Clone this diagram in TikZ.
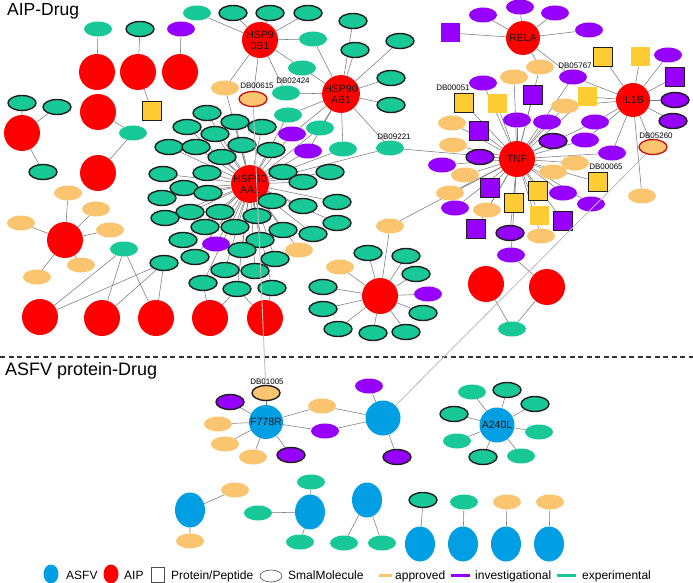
\documentclass[tikz,border=0pt]{standalone}
\usepackage{fontspec}
\setmainfont{Liberation Sans}
\usetikzlibrary{shapes.geometric}
\pgfdeclarelayer{bg}
\pgfsetlayers{bg,main}
\definecolor{cexp}{RGB}{24,200,150}
\definecolor{cinv}{RGB}{150,0,255}
\definecolor{capp}{RGB}{250,197,110}
\definecolor{csq}{RGB}{255,204,51}
\definecolor{cblue}{RGB}{0,158,226}
\definecolor{cbd}{RGB}{30,30,30}
\definecolor{cred}{RGB}{255,0,0}
\tikzset{
 ed/.style={draw=black!52, line width=0.55pt},
 lgl/.style={draw=black!25, line width=0.9pt},
 sm/.style={ellipse, minimum width=28pt, minimum height=15pt, inner sep=0pt},
 bd/.style={draw=cbd, line width=1.4pt},
 gE/.style={sm, fill=cexp}, gEb/.style={gE, bd},
 pI/.style={sm, fill=cinv}, pIb/.style={pI, bd},
 yA/.style={sm, fill=capp}, yAb/.style={yA, bd},
 yR/.style={yA, draw=red!80!black, line width=1.2pt},
 pq/.style={rectangle, minimum width=19pt, minimum height=19pt, inner sep=0pt},
 sqY/.style={pq, fill=csq}, sqYb/.style={sqY, bd},
 sqP/.style={pq, fill=cinv}, sqPb/.style={sqP, bd},
 aip/.style={circle, fill=cred, minimum size=36pt, inner sep=0pt},
 hub/.style={aip, font=\fontsize{10.5}{11}\selectfont, align=center, text=black!90},
 asfv/.style={circle, fill=cblue, minimum size=34pt, inner sep=0pt, font=\fontsize{10.5}{10.5}\selectfont, text=black!90},
 asfvE/.style={ellipse, fill=cblue, minimum width=30pt, minimum height=35pt, inner sep=0pt},
 dbl/.style={font=\fontsize{8}{8}\selectfont, inner sep=0pt},
 lgt/.style={font=\fontsize{12}{12}\selectfont, anchor=base west, inner sep=0pt},
 ttl/.style={font=\fontsize{17.5}{18}\selectfont, anchor=base west, inner sep=0pt},
}
\begin{document}
\begin{tikzpicture}[x=1pt,y=-1pt]
\useasboundingbox (0,0) rectangle (693,583);
% titles
\node[ttl] (title1) at (7,16) {AIP-Drug};
\node[ttl, font=\fontsize{18}{18}\selectfont] (title2) at (5,375) {ASFV protein-Drug};
\coordinate (dl) at (0,357); \coordinate (dr) at (693,357);
\draw[black!80, line width=1.2pt, dash pattern=on 5pt off 3.5pt] (dl) -- (dr);
% ---- top-left
\node[gE] (t1) at (98,29) {};
\node[gEb] (t2) at (140,29) {};
\node[pI] (t3) at (181,29) {};
\node[aip] (r1) at (97,72) {};
\node[aip] (r2) at (138,72) {};
\node[aip] (r3) at (180,72) {};
\node[sqYb] (t4) at (152,111) {};
\node[aip] (r4) at (98,112) {};
\node[gE] (t5) at (133,133) {};
\node[aip] (r5) at (98,173) {};
\node[aip] (r6) at (22,133) {};
\node[gEb] (t6) at (22,103) {};
\node[gEb] (t7) at (57,107) {};
\node[gEb] (t8) at (43,172) {};
% ---- left-bottom
\node[aip] (r7) at (65,240) {};
\node[yA] (y1) at (68,193) {};
\node[yA] (y2) at (96,209) {};
\node[yA] (y3) at (21,223) {};
\node[yA] (y4) at (110,230) {};
\node[yA] (y5) at (81,265) {};
\node[yA] (y6) at (37,277) {};
\node[gE] (t9) at (124,249) {};
\node[gEb] (t10) at (164,263) {};
\node[aip] (b1) at (40,317) {};
\node[aip] (b2) at (102,318) {};
\node[aip] (b3) at (156,318) {};
\node[aip] (b4) at (210,318) {};
\node[aip] (b5) at (265,318) {};
% ---- HSP90B1 / AB1
\node[hub] (hb1) at (260,40) {HSP9\\0B1};
\node[gE] (u1) at (197,13) {};
\node[gEb] (u2) at (233,13) {};
\node[gEb] (u3) at (270,13) {};
\node[gEb] (u4) at (308,13) {};
\node[gE] (u5) at (313,39) {};
\node[gE] (u6) at (302,68) {};
\node[yA] (u7) at (225,88) {};
\node[yR] (db615) at (253,99) {};
\node[dbl] (l615) at (257,86) {DB00615};
\node[gE] (db2424) at (286,93) {};
\node[dbl] (l2424) at (293,81) {DB02424};
\node[hub] (hab) at (341,94) {HSP90\\AB1};
\node[gEb] (v1) at (353,21) {};
\node[gEb] (v2) at (355,50) {};
\node[gEb] (v3) at (400,41) {};
\node[gEb] (v4) at (391,78) {};
\node[gEb] (v5) at (391,105) {};
\node[gE] (w1) at (288,115) {};
\node[gE] (w2) at (320,128) {};
\node[gE] (w3) at (343,149) {};
\node[gE] (db9221) at (390,148) {};
\node[dbl] (l9221) at (394,137) {DB09221};
\node[pI] (p1) at (292,134) {};
\node[pI] (p2) at (308,151) {};
% ---- HSP90AA1
\node[hub, minimum size=34pt] (haa) at (250,184) {HSP90\\AA1};
\foreach \i/\x/\y in {1/207/113,2/235/122,3/187/127,4/215/134,5/262/127,6/169/147,7/196/147,8/242/145,9/222/157,10/271/150,11/163/174,12/207/173,13/283/172,14/330/172,15/184/188,16/208/193,17/303/182,18/162/198,19/272/201,20/303/206,21/337/202,22/190/212,23/220/212,24/257/216,25/337/223,26/165/218,27/205/227,28/235/227,29/283/230,30/313/234,31/183/240,32/260/240,33/242/250,34/195/257,35/275/259,36/225/270,37/255/271,38/203/283,39/237/289,40/272/288}
  {\node[gEb] (a\i) at (\x,\y) {};}
\node[pI] (pa) at (216,244) {};
\node[yA] (ya) at (299,250) {};
% ---- right mid cluster
\node[aip] (r8) at (380,296) {};
\node[yA] (k1) at (340,267) {};
\node[yA] (k2) at (390,226) {};
\node[gEb] (k3) at (368,253) {};
\node[gEb] (k4) at (406,256) {};
\node[gEb] (k5) at (416,274) {};
\node[pI] (k6) at (428,294) {};
\node[gEb] (k7) at (423,313) {};
\node[gEb] (k8) at (406,332) {};
\node[gEb] (k9) at (373,333) {};
\node[gEb] (k10) at (338,329) {};
\node[gEb] (k11) at (323,309) {};
\node[gEb] (k12) at (323,287) {};
% ---- RELA
\node[hub, minimum size=34pt] (hrela) at (523,38) {RELA};
\node[pI] (q1) at (483,15) {};
\node[pI] (q2) at (520,7) {};
\node[pI] (q3) at (555,13) {};
\node[pI] (q4) at (589,30) {};
\node[sqP] (q5) at (450,33) {};
% ---- TNF
\node[hub] (tnf) at (517,159) {TNF};
\node[pI] (n1) at (483,83) {};
\node[yA] (n2) at (514,77) {};
\node[yA] (n3) at (540,67) {};
\node[pI] (db5767) at (573,77) {};
\node[dbl] (l5767) at (575,66) {DB05767};
\node[sqYb] (db51) at (464,103) {};
\node[dbl] (l51) at (453,88) {DB00051};
\node[sqY] (n4) at (497,104) {};
\node[sqPb] (n5) at (533,95) {};
\node[sqY] (n6) at (587,97) {};
\node[yA] (n7) at (452,123) {};
\node[sqPb] (n8) at (479,131) {};
\node[pI] (n9) at (517,120) {};
\node[pI] (n10) at (547,122) {};
\node[yA] (n11) at (565,106) {};
\node[pI] (n12) at (595,122) {};
\node[yA] (n13) at (453,145) {};
\node[pIb] (n14) at (553,141) {};
\node[pI] (n15) at (585,140) {};
\node[pIb] (n16) at (480,157) {};
\node[pI] (n17) at (612,153) {};
\node[pI] (n18) at (442,165) {};
\node[yA] (n19) at (465,175) {};
\node[yA] (n20) at (575,163) {};
\node[yA] (n21) at (553,172) {};
\node[sqYb] (db65) at (598,182) {};
\node[dbl] (l65) at (606,167) {DB00065};
\node[yA] (n22) at (450,193) {};
\node[sqPb] (n23) at (490,188) {};
\node[sqYb] (n24) at (538,191) {};
\node[pI] (n25) at (563,193) {};
\node[pI] (n26) at (591,204) {};
\node[pI] (n27) at (455,208) {};
\node[yA] (n28) at (487,210) {};
\node[sqYb] (n29) at (514,203) {};
\node[sqY] (n30) at (539,215) {};
\node[sqPb] (n31) at (563,221) {};
\node[sqPb] (n32) at (476,229) {};
\node[pIb] (n33) at (510,233) {};
\node[yA] (n34) at (541,236) {};
\node[pI] (n35) at (511,255) {};
\node[aip] (r9) at (547,287) {};
\node[aip] (r10) at (486,284) {};
\node[gE] (g9) at (512,329) {};
% ---- IL1B
\node[hub, minimum size=34pt] (hil) at (633,100) {IL1B};
\node[sqYb] (m1) at (603,57) {};
\node[sqY] (m2) at (640,57) {};
\node[pI] (m3) at (668,55) {};
\node[sqPb] (m4) at (675,77) {};
\node[pIb] (m5) at (675,100) {};
\node[pIb] (m6) at (673,121) {};
\node[yR] (db5260) at (653,147) {};
\node[dbl] (l5260) at (656,136) {DB05260};
\node[yA] (m7) at (642,196) {};
% ---- ASFV
\node[asfv] (f778) at (266,422) {F778R};
\node[yAb] (db1005) at (266,393) {};
\node[dbl] (l1005) at (267,382) {DB01005};
\node[pIb] (s1) at (230,402) {};
\node[yA] (s2) at (218,424) {};
\node[yA] (s3) at (225,444) {};
\node[yA] (s4) at (253,457) {};
\node[pIb] (s5) at (291,455) {};
\node[pI] (s6) at (325,431) {};
\node[yA] (s7) at (322,406) {};
\node[asfv, minimum size=35pt] (bl2) at (383,418) {};
\node[pI] (s8) at (369,386) {};
\node[pIb] (s9) at (397,457) {};
\node[asfv, minimum size=35pt] (a240) at (497,425) {A240L};
\node[gE] (c1) at (472,392) {};
\node[gEb] (c2) at (507,390) {};
\node[gEb] (c3) at (535,404) {};
\node[gE] (c4) at (539,432) {};
\node[gE] (c5) at (521,456) {};
\node[gEb] (c6) at (483,457) {};
\node[gE] (c7) at (457,441) {};
\node[gEb] (c8) at (454,414) {};
% bottom
\node[asfvE] (bb1) at (190,510) {};
\node[yA] (z1) at (235,490) {};
\node[yA] (z2) at (190,541) {};
\node[asfvE] (bb2) at (310,512) {};
\node[gE] (z3) at (311,482) {};
\node[gE] (z4) at (258,513) {};
\node[gE] (z5) at (300,542) {};
\node[asfvE] (bb3) at (367,500) {};
\node[gE] (z6) at (344,543) {};
\node[gE] (z7) at (382,543) {};
\node[asfvE] (bb4) at (420,544) {};
\node[gEb] (z8) at (423,500) {};
\node[asfvE] (bb5) at (463,544) {};
\node[gE] (z9) at (464,502) {};
\node[asfvE] (bb6) at (506,544) {};
\node[yA] (z10) at (507,502) {};
\node[asfvE] (bb7) at (549,544) {};
\node[yA] (z11) at (550,502) {};
% legend
\node[ellipse, fill=cblue, minimum width=15pt, minimum height=19pt, inner sep=0pt] (lg1) at (51,574) {};
\node[lgt] (lt1) at (66,579) {ASFV};
\node[ellipse, fill=cred, minimum width=15pt, minimum height=19pt, inner sep=0pt] (lg2) at (111,574) {};
\node[lgt] (lt2) at (124,579) {AIP};
\node[rectangle, draw=black!70, line width=0.6pt, minimum width=13pt, minimum height=15pt, inner sep=0pt] (lg3) at (158,575) {};
\node[lgt] (lt3) at (171,579) {Protein/Peptide};
\node[ellipse, draw=black!70, line width=0.6pt, minimum width=22pt, minimum height=12pt, inner sep=0pt] (lg4) at (271,576) {};
\node[lgt] (lt4) at (288,579) {SmalMolecule};
\coordinate (la1) at (379,575); \coordinate (la2) at (392,575);
\draw[capp, line width=3pt] (la1) -- (la2);
\node[lgt] (lt5) at (395,579) {approved};
\coordinate (lb1) at (451,575); \coordinate (lb2) at (470,575);
\draw[cinv, line width=3pt] (lb1) -- (lb2);
\node[lgt] (lt6) at (475,579) {investigational};
\coordinate (lc1) at (557,575); \coordinate (lc2) at (576,575);
\draw[cexp, line width=3pt] (lc1) -- (lc2);
\node[lgt] (lt7) at (582,579) {experimental};
% long light edges on top
\draw[lgl] (db615) -- (db1005);
\draw[lgl] (db5260) -- (bl2);
% ---- edges
\begin{pgfonlayer}{bg}
\draw[ed] (r1)--(t1) (r2)--(t2) (r3)--(t3) (r2)--(t4) (r4)--(t5) (r5)--(t5) (r6)--(t6) (r6)--(t7) (r6)--(t8);
\foreach \n in {y1,y2,y3,y4,y5,y6} \draw[ed] (r7)--(\n);
\foreach \n in {b1,b2,b3} {\draw[ed] (t9)--(\n); \draw[ed] (t10)--(\n);}
\draw[ed] (a38)--(b4) (a39)--(b4) (a39)--(b5) (a40)--(b5);
\foreach \n in {u1,u2,u3,u4,u5,u6,u7,db615,db2424} \draw[ed] (hb1)--(\n);
\foreach \n in {v1,v2,v3,v4,v5,u5,u6,db2424,w1,w2,w3,db9221,p1,p2} \draw[ed] (hab)--(\n);
\foreach \i in {1,...,40} \draw[ed] (haa)--(a\i);
\foreach \n in {w1,w2,w3,p1,p2,db9221,u7,pa,ya} \draw[ed] (haa)--(\n);
\foreach \n in {k1,k2,k3,k4,k5,k6,k7,k8,k9,k10,k11,k12} \draw[ed] (r8)--(\n);
\foreach \i in {1,...,35} \draw[ed] (tnf)--(n\i);
\foreach \n in {db51,db5767,db65,db9221,k2} \draw[ed] (tnf)--(\n);
\foreach \n in {m1,m2,m3,m4,m5,m6,m7,db5260,db5767,n6,n11,n12,n15,n17} \draw[ed] (hil)--(\n);
\foreach \n in {q1,q2,q3,q4,q5,n3,db5767} \draw[ed] (hrela)--(\n);
\draw[ed] (n35)--(r9) (r9)--(g9) (r10)--(g9);
\foreach \n in {db1005,s1,s2,s3,s4,s5,s6,s7} \draw[ed] (f778)--(\n);
\foreach \n in {s6,s7,s8,s9} \draw[ed] (bl2)--(\n);
\foreach \n in {c1,c2,c3,c4,c5,c6,c7,c8} \draw[ed] (a240)--(\n);
\draw[ed] (bb1)--(z1) (bb1)--(z2) (bb2)--(z3) (bb2)--(z4) (bb2)--(z5) (bb3)--(z6) (bb3)--(z7) (bb4)--(z8) (bb5)--(z9) (bb6)--(z10) (bb7)--(z11);
\end{pgfonlayer}
\end{tikzpicture}
\end{document}
